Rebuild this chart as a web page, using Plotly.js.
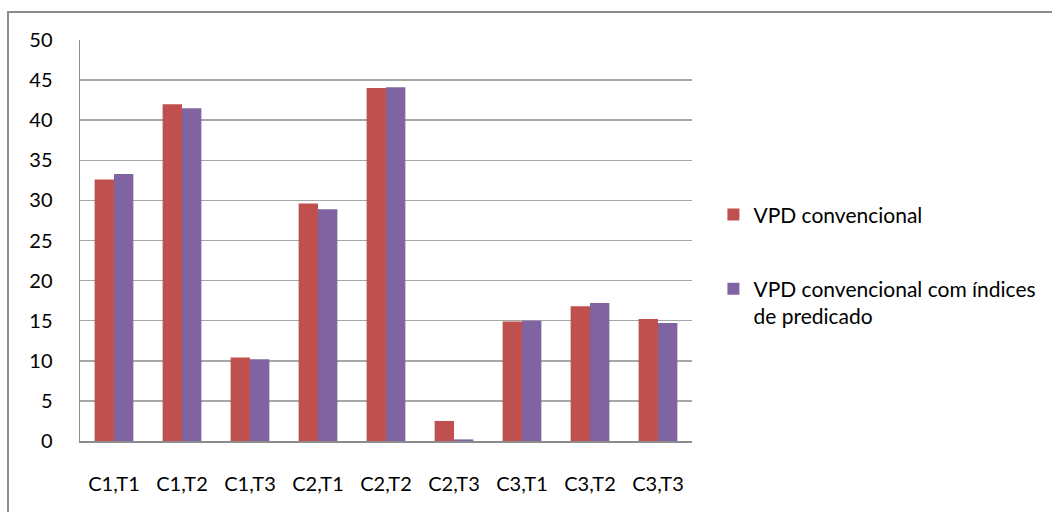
<!DOCTYPE html>
<html>
<head>
<meta charset="utf-8">
<script src="https://cdn.plot.ly/plotly-3.0.1.min.js"></script>
<style>
html,body{margin:0;padding:0;background:#fff;overflow:hidden;}
#frame{position:absolute;left:7px;top:11px;width:1100px;height:600px;border:2px solid #8c8c8c;box-sizing:border-box;}
#chart{position:absolute;left:0;top:0;width:1052px;height:512px;}
</style>
</head>
<body>
<div id="frame"></div>
<div id="chart"></div>
<script>
const categories = ["C1,T1","C1,T2","C1,T3","C2,T1","C2,T2","C2,T3","C3,T1","C3,T2","C3,T3"];
const seriesNames = ["VPD convencional","VPD convencional com índices<br>de predicado"];
const vpdConvencional = [32.6, 42.0, 10.4, 29.6, 44.0, 2.5, 14.9, 16.8, 15.2];
const vpdIndices = [33.3, 41.5, 10.2, 28.9, 44.1, 0.2, 15.0, 17.2, 14.7];
const yTicks = [0,5,10,15,20,25,30,35,40,45,50];

const fontFam = "Lato, 'Open Sans', sans-serif";
const traces = [
  {type:'bar', x:categories, y:vpdConvencional, name:seriesNames[0], legendgroup:'a',
   marker:{color:'#C0504D'}},
  {type:'bar', x:categories, y:vpdIndices, name:seriesNames[1], legendgroup:'b',
   marker:{color:'#8064A2'}}
];
const layout = {
  width:1052, height:512,
  margin:{l:80, r:360, t:40, b:71, autoexpand:false},
  paper_bgcolor:'rgba(0,0,0,0)', plot_bgcolor:'rgba(0,0,0,0)',
  barmode:'group', bargap:0.43, bargroupgap:0,
  font:{family:fontFam, size:20, color:'#000'},
  xaxis:{type:'category', showgrid:false, showline:true, linecolor:'#8c8c8c', linewidth:1.5,
         ticks:'', ticklabelstandoff:24, tickfont:{size:20}, automargin:false},
  yaxis:{range:[0,50], tickvals:yTicks, showgrid:true, gridcolor:'#a6a6a6', gridwidth:1.5,
         showline:true, linecolor:'#8c8c8c', linewidth:1.5, zeroline:false,
         ticks:'', ticklabelstandoff:22, tickfont:{size:20}, automargin:false},
  showlegend:true,
  legend:{x:1.035, xanchor:'left', y:0.615, yanchor:'top', tracegroupgap:44, valign:'top',
          font:{family:fontFam, size:21}, itemwidth:30, traceorder:'grouped',
          bgcolor:'rgba(0,0,0,0)'}
};
Plotly.newPlot('chart', traces, layout, {displayModeBar:false, staticPlot:true});
</script>
</body>
</html>
